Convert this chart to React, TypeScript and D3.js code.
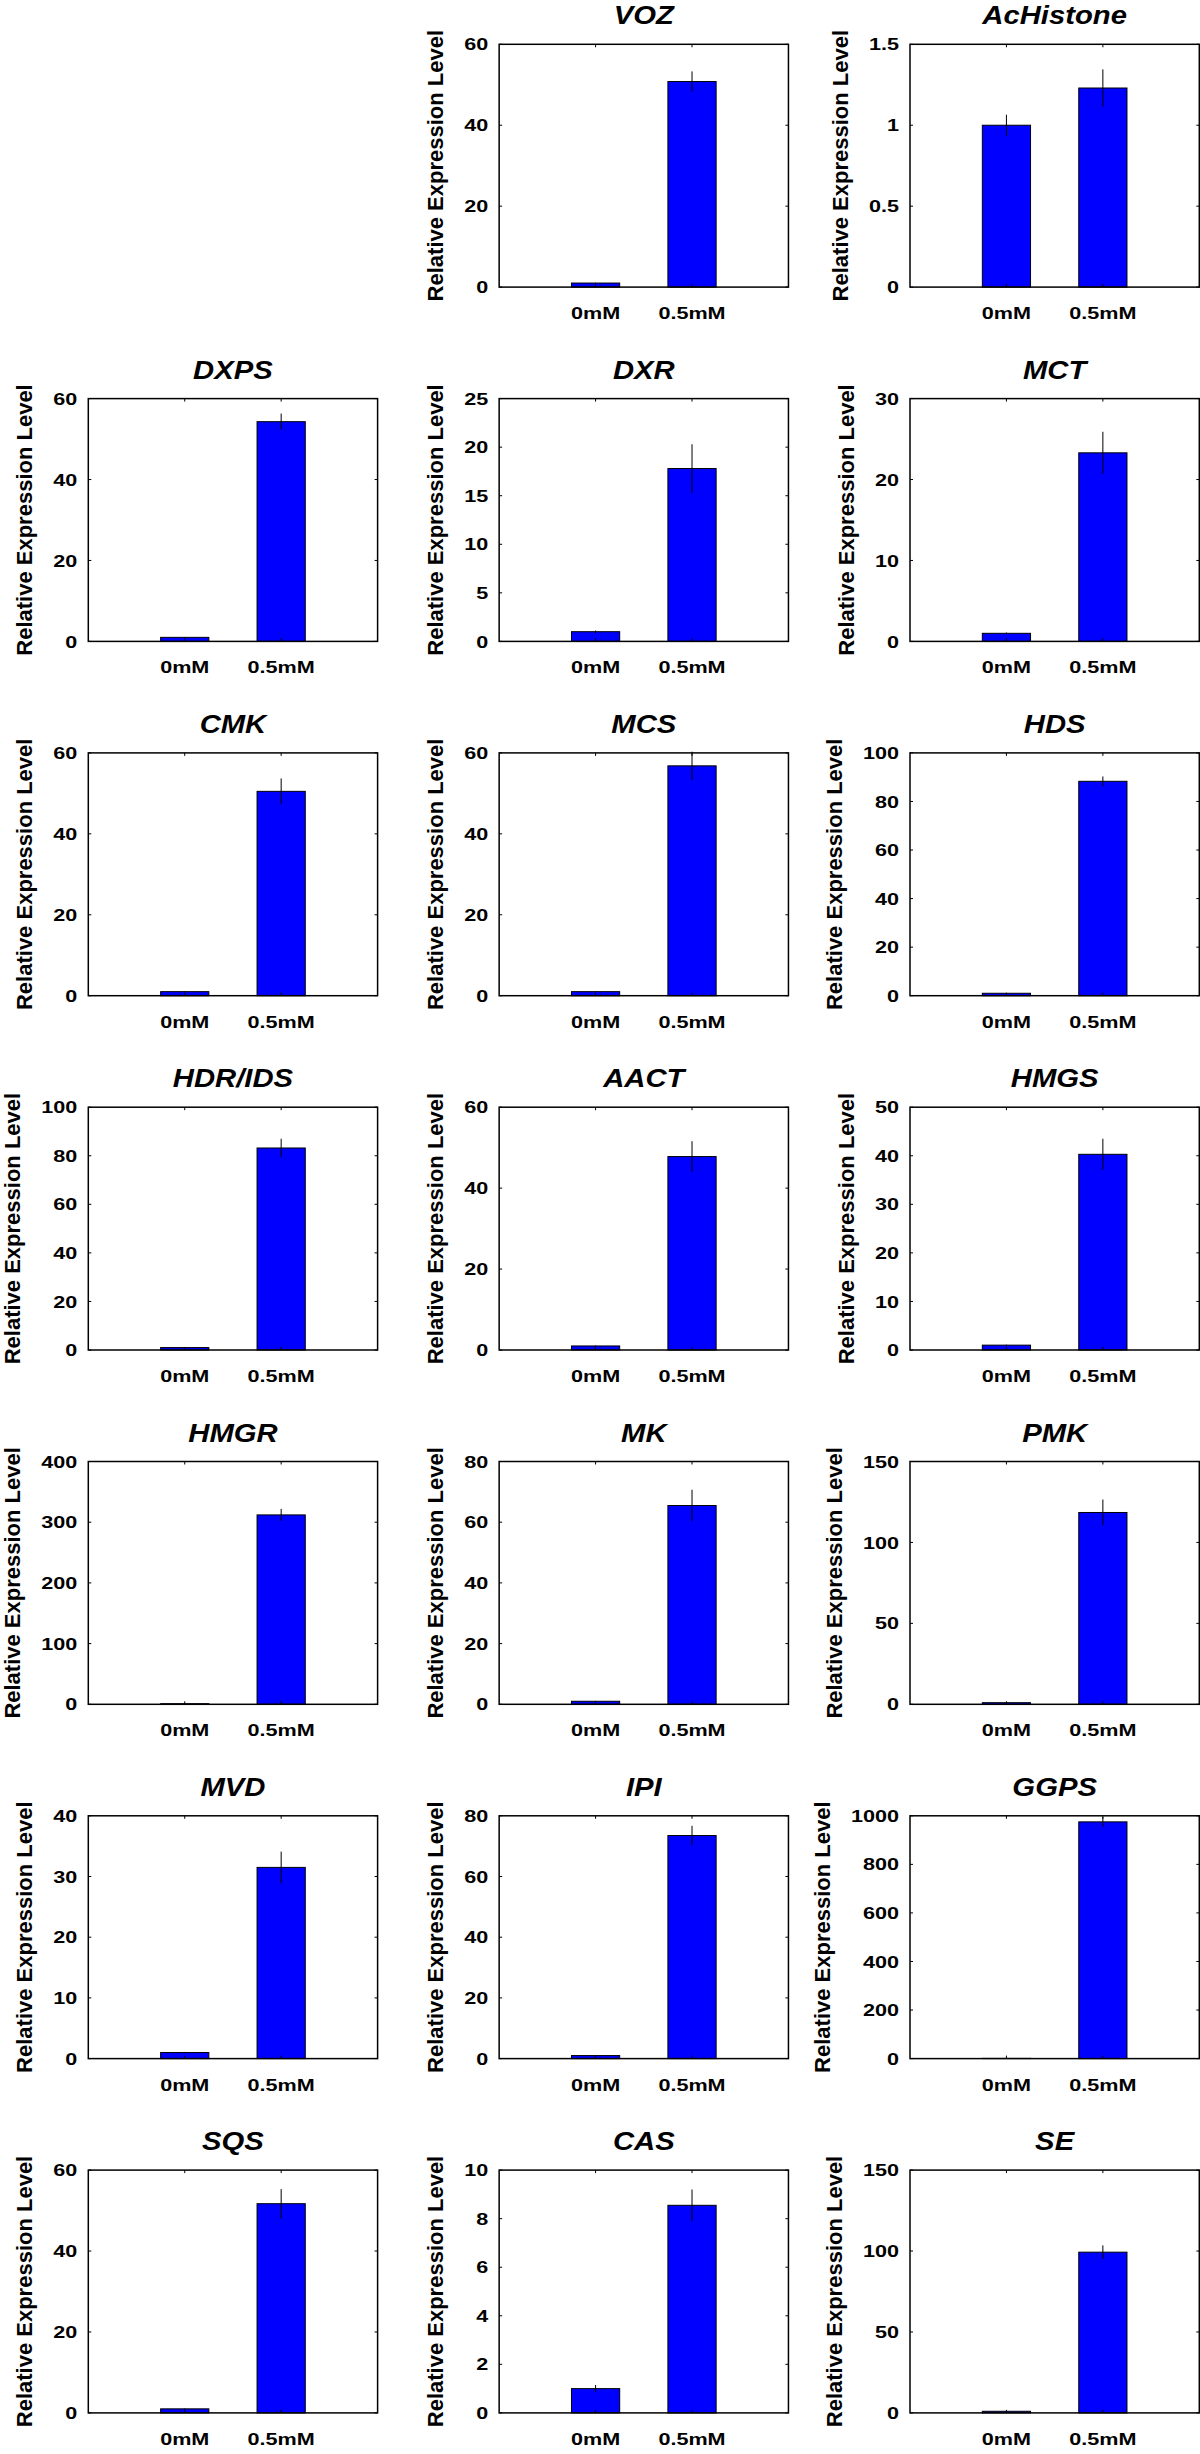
import React from "react";
import * as d3 from "d3";

// gene panels, laid out 3 per row; the first slot (row 0, col 0) is empty
const genes = [
  "VOZ", "AcHistone",
  "DXPS", "DXR", "MCT",
  "CMK", "MCS", "HDS",
  "HDR/IDS", "AACT", "HMGS",
  "HMGR", "MK", "PMK",
  "MVD", "IPI", "GGPS",
  "SQS", "CAS", "SE",
];
const yMax = [60, 1.5, 60, 25, 30, 60, 60, 100, 100, 60, 50, 400, 80, 150, 40, 80, 1000, 60, 10, 150];
const yStep = [20, 0.5, 20, 5, 10, 20, 20, 20, 20, 20, 10, 100, 20, 50, 10, 20, 200, 20, 2, 50];

const doses = ["0mM", "0.5mM"];
const ctrlMean = [1, 1, 1, 1, 1, 1, 1, 1, 1, 1, 1, 1, 1, 1, 1, 1, 1, 1, 1, 1];
const ctrlErr = [0.08, 0.065, 0.08, 0.12, 0.1, 0.08, 0.08, 0.1, 0.1, 0.1, 0.1, 0.5, 0.1, 0.2, 0.1, 0.1, 1, 0.1, 0.15, 0.2];
const treatMean = [50.8, 1.23, 54.3, 17.8, 23.3, 50.5, 56.8, 88.3, 83.2, 47.8, 40.3, 312, 65.5, 118.5, 31.5, 73.5, 975, 51.7, 8.55, 99.3];
const treatErr = [2.5, 0.115, 2.0, 2.5, 2.6, 3.2, 3.5, 2.0, 3.8, 3.8, 3.2, 10, 5.2, 8, 2.6, 3.2, 20, 3.6, 0.65, 4.2];

const FONT = "'Liberation Sans', Arial, sans-serif";

// Arial bold advance widths (per 1000 em), used to pin text widths to the original
const ADV: Record<string, number> = {
  "0": 556, "1": 556, "2": 556, "3": 556, "4": 556, "5": 556, "6": 556, "7": 556, "8": 556, "9": 556,
  ".": 278, "/": 278, " ": 278,
  A: 722, C: 722, D: 722, E: 667, G: 778, H: 722, I: 278, K: 722, L: 611, M: 833, O: 778,
  P: 667, Q: 778, R: 722, S: 667, T: 611, V: 667, X: 667, Z: 611, N: 722,
  a: 556, c: 556, e: 556, i: 278, l: 278, m: 889, n: 611, o: 611, p: 611, r: 389, s: 556, t: 333, v: 556, x: 556,
};
function ems(s: string) {
  let w = 0;
  for (const ch of s) w += ADV[ch] ?? 600;
  return w / 1000;
}

const TICK_PX = 17 * 1.27; // tick/axis text is horizontally stretched in the original
const TITLE_PX = 25 * 1.17;

function fmt(v: number) {
  return String(Math.round(v * 100) / 100);
}

function Panel({ i, left, top, width, height }: { i: number; left: number; top: number; width: number; height: number }) {
  const x = d3.scaleLinear().domain([0, 3]).range([left, left + width]);
  const y = d3.scaleLinear().domain([0, yMax[i]]).range([top + height, top]);
  const ticks = d3.range(0, yMax[i] + yStep[i] / 2, yStep[i]);
  const means = [ctrlMean[i], treatMean[i]];
  const errs = [ctrlErr[i], treatErr[i]];
  const tickLabels = ticks.map(fmt);
  const maxW = d3.max(tickLabels, (s) => ems(s) * TICK_PX) || 0;
  const tl = 3;
  const bw = 0.25;
  const ylab = "Relative Expression Level";

  return (
    <g fontFamily={FONT} fontWeight="bold">
      <text
        x={left + width / 2}
        y={top - 20}
        textAnchor="middle"
        fontSize={25}
        fontStyle="italic"
        textLength={ems(genes[i]) * TITLE_PX}
        lengthAdjust="spacingAndGlyphs"
      >
        {genes[i]}
      </text>
      {means.map((m, k) => (
        <rect
          key={k}
          x={x(k + 1 - bw)}
          y={y(m)}
          width={x(k + 1 + bw) - x(k + 1 - bw)}
          height={y(0) - y(m)}
          fill="#0000ff"
          stroke="#000"
          strokeWidth={1}
        />
      ))}
      {means.map((m, k) => (
        <line
          key={"e" + k}
          x1={x(k + 1)}
          x2={x(k + 1)}
          y1={y(m - errs[k])}
          y2={y(m + errs[k])}
          stroke="#000"
          strokeWidth={1}
        />
      ))}
      <rect x={left} y={top} width={width} height={height} fill="none" stroke="#000" strokeWidth={1.5} />
      {ticks.map((t, k) => (
        <g key={"t" + k}>
          <line x1={left} x2={left + tl} y1={y(t)} y2={y(t)} stroke="#000" />
          <line x1={left + width} x2={left + width - tl} y1={y(t)} y2={y(t)} stroke="#000" />
          <text
            x={left - 11}
            y={y(t)}
            dy="0.36em"
            textAnchor="end"
            fontSize={17}
            textLength={ems(tickLabels[k]) * TICK_PX}
            lengthAdjust="spacingAndGlyphs"
          >
            {tickLabels[k]}
          </text>
        </g>
      ))}
      {doses.map((d, k) => (
        <g key={"x" + k}>
          <line x1={x(k + 1)} x2={x(k + 1)} y1={top} y2={top + tl} stroke="#000" />
          <line x1={x(k + 1)} x2={x(k + 1)} y1={top + height} y2={top + height - tl} stroke="#000" />
          <text
            x={x(k + 1)}
            y={top + height + 32}
            textAnchor="middle"
            fontSize={17}
            textLength={ems(d) * TICK_PX}
            lengthAdjust="spacingAndGlyphs"
          >
            {d}
          </text>
        </g>
      ))}
      <text
        transform={`translate(${left - 11 - maxW - 21},${top + height / 2}) rotate(-90)`}
        textAnchor="middle"
        fontSize={22}
        textLength={ems(ylab) * 22}
        lengthAdjust="spacingAndGlyphs"
      >
        {ylab}
      </text>
    </g>
  );
}

export default function App() {
  const W = 1200;
  const H = 2454;
  const colLeft = (c: number) => 88.3 + c * 410.85;
  const rowTop = (r: number) => 44.3 + r * 354.3;
  const pw = 289.3;
  const ph = 242.8;

  return (
    <svg width={W} height={H} style={{ position: "absolute", left: 0, top: 0, background: "#fff" }}>
      <rect width={W} height={H} fill="#fff" />
      {genes.map((g, i) => {
        const slot = i + 1;
        const r = Math.floor(slot / 3);
        const c = slot % 3;
        return <Panel key={g} i={i} left={colLeft(c)} top={rowTop(r)} width={pw} height={ph} />;
      })}
    </svg>
  );
}
